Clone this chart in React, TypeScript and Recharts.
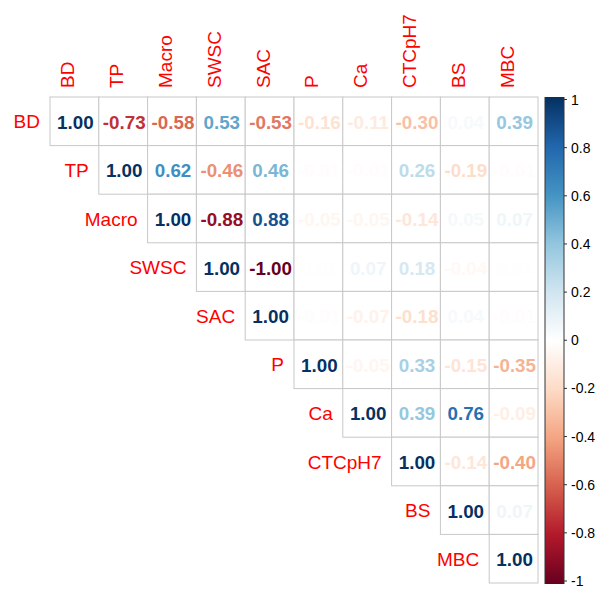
import { ScatterChart, Scatter, XAxis, YAxis } from 'recharts';

const vars = ['BD', 'TP', 'Macro', 'SWSC', 'SAC', 'P', 'Ca', 'CTCpH7', 'BS', 'MBC'];

// upper triangle, row i starts at column i
const rowBD = [1.0, -0.73, -0.58, 0.53, -0.53, -0.16, -0.11, -0.3, 0.04, 0.39];
const rowTP = [1.0, 0.62, -0.46, 0.46, -0.01, -0.01, 0.26, -0.19, -0.01];
const rowMacro = [1.0, -0.88, 0.88, -0.05, -0.05, -0.14, 0.05, 0.07];
const rowSWSC = [1.0, -1.0, 0.01, 0.07, 0.18, -0.04, 0.01];
const rowSAC = [1.0, -0.01, -0.07, -0.18, 0.04, -0.01];
const rowP = [1.0, -0.05, 0.33, -0.15, -0.35];
const rowCa = [1.0, 0.39, 0.76, -0.09];
const rowCTC = [1.0, -0.14, -0.4];
const rowBS = [1.0, 0.07];
const rowMBC = [1.0];

const rows = [rowBD, rowTP, rowMacro, rowSWSC, rowSAC, rowP, rowCa, rowCTC, rowBS, rowMBC];

const legendTicks = [1, 0.8, 0.6, 0.4, 0.2, 0, -0.2, -0.4, -0.6, -0.8, -1];

// RdBu palette used by corrplot, from -1 to 1
const palette = ['#67001F', '#B2182B', '#D6604D', '#F4A582', '#FDDBC7', '#FFFFFF', '#D1E5F0', '#92C5DE', '#4393C3', '#2166AC', '#053061'];

const W = 597;
const H = 590;
const GRID_L = 50;
const GRID_R = 538;
const GRID_T = 97;
const GRID_B = 583;
const CELL_W = (GRID_R - GRID_L) / vars.length;
const CELL_H = (GRID_B - GRID_T) / vars.length;
const FONT = '"Liberation Sans", Arial, sans-serif';

function hex(c: string) {
  return [1, 3, 5].map(k => parseInt(c.slice(k, k + 2), 16));
}

function colorFor(v: number): string {
  const t = ((v + 1) / 2) * (palette.length - 1);
  const i = Math.min(Math.floor(t), palette.length - 2);
  const f = t - i;
  const a = hex(palette[i]);
  const b = hex(palette[i + 1]);
  const m = a.map((x, k) => Math.round(x + (b[k] - x) * f));
  return `rgb(${m[0]},${m[1]},${m[2]})`;
}

const cells = rows.flatMap((r, i) =>
  r.map((v, k) => ({ x: i + k + 0.5, y: i + 0.5, v, row: i, col: i + k }))
);

function CellShape(props: any) {
  const { cx, cy, payload } = props;
  const { v, row, col } = payload;
  return (
    <g>
      <rect x={cx - CELL_W / 2} y={cy - CELL_H / 2} width={CELL_W} height={CELL_H} fill="#fff" stroke="#c8c8c8" strokeWidth={1} />
      <text x={cx + 1} y={cy + 7.5} textAnchor="middle" fontFamily={FONT} fontWeight="bold" fontSize={18.8} fill={colorFor(v)}>
        {v.toFixed(2)}
      </text>
      {row === col && (
        <text x={cx - CELL_W / 2 - 10} y={cy + 7} textAnchor="end" fontFamily={FONT} fontSize={19} fill="red">
          {vars[row]}
        </text>
      )}
    </g>
  );
}

function TopTick(props: any) {
  const { x, payload } = props;
  const name = vars[Math.floor(payload.value)];
  return (
    <text x={x} y={88} transform={`rotate(-90, ${x}, 88)`} textAnchor="start" fontFamily={FONT} fontSize={19} fill="red">
      {name}
    </text>
  );
}

function ColorBar() {
  const x0 = 545;
  const x1 = 564;
  const top = 97;
  const bottom = 584;
  const tTop = 99.5;
  const tBottom = 581;
  const ty = (v: number) => tTop + ((1 - v) / 2) * (tBottom - tTop);
  return (
    <g>
      <defs>
        <linearGradient id="cbar" x1="0" y1="0" x2="0" y2="1">
          {palette.slice().reverse().map((c, i) => (
            <stop key={i} offset={i / (palette.length - 1)} stopColor={c} />
          ))}
        </linearGradient>
      </defs>
      <rect x={x0} y={top} width={x1 - x0} height={bottom - top} fill="url(#cbar)" />
      <line x1={x0} y1={top} x2={x0} y2={bottom} stroke="#333" strokeWidth={1} />
      <line x1={x1} y1={top} x2={x1} y2={bottom} stroke="#333" strokeWidth={1} />
      {legendTicks.map(t => (
        <g key={t}>
          <line x1={x1} y1={ty(t)} x2={x1 + 3} y2={ty(t)} stroke="#333" strokeWidth={1} />
          <text x={571} y={ty(t) + 5} fontFamily={FONT} fontSize={14} fill="#000">
            {String(t)}
          </text>
        </g>
      ))}
    </g>
  );
}

export default function App() {
  return (
    <div style={{ position: 'absolute', left: 0, top: 0, background: '#fff' }}>
      <ScatterChart width={W} height={H} margin={{ top: GRID_T - 60, left: GRID_L, right: W - GRID_R, bottom: H - GRID_B }}>
        <XAxis
          type="number"
          dataKey="x"
          orientation="top"
          domain={[0, vars.length]}
          ticks={vars.map((_, i) => i + 0.5)}
          height={60}
          axisLine={false}
          tickLine={false}
          tick={<TopTick />}
          interval={0}
        />
        <YAxis type="number" dataKey="y" domain={[0, vars.length]} reversed hide />
        <Scatter data={cells} shape={<CellShape />} isAnimationActive={false} />
        <ColorBar />
      </ScatterChart>
    </div>
  );
}
